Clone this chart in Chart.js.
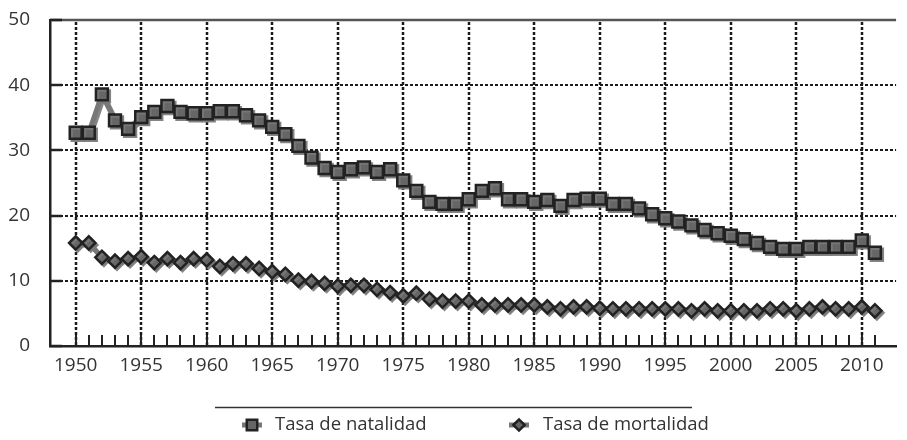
<!DOCTYPE html>
<html lang="es">
  <head>
    <meta charset="UTF-8" />
    <meta name="viewport" content="width=device-width, initial-scale=1.0" />
    <title>Tasa de natalidad y mortalidad</title>
    <style>
      body {
        margin: 0;
        background: #fff;
      }
      .chart-box {
        width: 907px;
        height: 440px;
      }
    </style>
  </head>
  <body>
    <div class="chart-box">
      <canvas id="myChart"></canvas>
    </div>

    <script src="https://cdn.jsdelivr.net/npm/chart.js"></script>

    <script>
      const years = [
        1950, 1951, 1952, 1953, 1954, 1955, 1956, 1957, 1958, 1959,
        1960, 1961, 1962, 1963, 1964, 1965, 1966, 1967, 1968, 1969,
        1970, 1971, 1972, 1973, 1974, 1975, 1976, 1977, 1978, 1979,
        1980, 1981, 1982, 1983, 1984, 1985, 1986, 1987, 1988, 1989,
        1990, 1991, 1992, 1993, 1994, 1995, 1996, 1997, 1998, 1999,
        2000, 2001, 2002, 2003, 2004, 2005, 2006, 2007, 2008, 2009,
        2010, 2011,
      ];

      const natalidad = [
        32.7, 32.7, 38.6, 34.6, 33.3, 35.1, 35.9, 36.8, 35.9, 35.7,
        35.7, 36.0, 36.0, 35.4, 34.6, 33.6, 32.5, 30.7, 28.9, 27.3,
        26.7, 27.1, 27.4, 26.7, 27.1, 25.4, 23.8, 22.1, 21.8, 21.8,
        22.5, 23.8, 24.2, 22.5, 22.5, 22.1, 22.4, 21.5, 22.4, 22.6,
        22.6, 21.8, 21.8, 21.1, 20.2, 19.6, 19.1, 18.5, 17.8, 17.3,
        16.9, 16.4, 15.8, 15.2, 14.9, 14.9, 15.2, 15.2, 15.2, 15.2,
        16.2, 14.3,
      ];

      const mortalidad = [
        15.8, 15.8, 13.6, 13.0, 13.4, 13.7, 12.8, 13.4, 12.8, 13.4,
        13.2, 12.2, 12.6, 12.6, 11.9, 11.4, 11.0, 10.1, 9.9, 9.6,
        9.2, 9.3, 9.3, 8.7, 8.2, 7.7, 8.1, 7.2, 6.9, 6.9,
        6.9, 6.3, 6.3, 6.3, 6.3, 6.3, 6.0, 5.7, 6.0, 6.0,
        5.8, 5.7, 5.7, 5.7, 5.7, 5.7, 5.7, 5.4, 5.7, 5.4,
        5.4, 5.4, 5.4, 5.7, 5.7, 5.4, 5.7, 6.0, 5.7, 5.7,
        6.0, 5.4,
      ];

      const yTicks = [0, 10, 20, 30, 40, 50];

      const fontFamily = "'Open Sans', 'Noto Sans', sans-serif";
      const lineGray = "#777777";
      const markFill = "#666666";
      const markEdge = "#222222";

      // dotted grid, inner tick marks and the top frame line
      const plotFrame = {
        id: "plotFrame",
        beforeDatasetsDraw(chart) {
          const { ctx, chartArea: a, scales } = chart;
          const x = scales.x;
          const y = scales.y;
          ctx.save();

          ctx.strokeStyle = "#555";
          ctx.lineWidth = 2.5;
          ctx.beginPath();
          ctx.moveTo(a.left, a.top);
          ctx.lineTo(a.right, a.top);
          ctx.stroke();

          ctx.strokeStyle = "#1a1a1a";
          ctx.setLineDash([3, 2]);
          ctx.lineWidth = 2;
          yTicks.forEach((v) => {
            if (v === 0 || v === 50) return;
            const py = Math.round(y.getPixelForValue(v));
            ctx.beginPath();
            ctx.moveTo(a.left, py);
            ctx.lineTo(a.right, py);
            ctx.stroke();
          });
          ctx.lineWidth = 2.5;
          years.forEach((v) => {
            if (v % 5 !== 0) return;
            const px = Math.round(x.getPixelForValue(v));
            ctx.beginPath();
            ctx.moveTo(px, a.top + 2);
            ctx.lineTo(px, a.bottom);
            ctx.stroke();
          });

          ctx.setLineDash([]);
          ctx.strokeStyle = "#222";
          ctx.lineWidth = 2;
          years.forEach((v) => {
            const px = Math.round(x.getPixelForValue(v));
            ctx.beginPath();
            ctx.moveTo(px, a.bottom);
            ctx.lineTo(px, a.bottom - 11);
            ctx.stroke();
          });
          ctx.lineWidth = 2.5;
          yTicks.forEach((v) => {
            const py = Math.round(y.getPixelForValue(v));
            ctx.beginPath();
            ctx.moveTo(a.left, py);
            ctx.lineTo(a.left + 12, py);
            ctx.stroke();
          });
          ctx.restore();
        },
      };

      // soft gray drop shadow under lines and markers
      const markShadow = {
        id: "markShadow",
        beforeDatasetDraw(chart) {
          const { ctx } = chart;
          ctx.save();
          ctx.shadowColor = "rgba(120,120,120,0.9)";
          ctx.shadowOffsetX = 2;
          ctx.shadowOffsetY = 2;
          ctx.shadowBlur = 0;
        },
        afterDatasetDraw(chart) {
          chart.ctx.restore();
        },
      };

      // legend with a rule above it, drawn under the x axis labels
      const boxedLegend = {
        id: "boxedLegend",
        afterDraw(chart) {
          const { ctx } = chart;
          const y = 425;
          const items = [
            { iconX: 252, textX: 275 },
            { iconX: 519, textX: 543 },
          ];
          ctx.save();
          ctx.strokeStyle = "#333";
          ctx.lineWidth = 1.5;
          ctx.beginPath();
          ctx.moveTo(215, 407.5);
          ctx.lineTo(692, 407.5);
          ctx.stroke();

          chart.data.datasets.forEach((ds, i) => {
            const it = items[i];
            ctx.strokeStyle = ds.borderColor;
            ctx.lineWidth = 5;
            ctx.beginPath();
            ctx.moveTo(it.iconX - 10, y);
            ctx.lineTo(it.iconX + 10, y);
            ctx.stroke();

            ctx.fillStyle = ds.pointBackgroundColor;
            ctx.strokeStyle = ds.pointBorderColor;
            ctx.lineWidth = ds.pointBorderWidth;
            Chart.helpers.drawPoint(
              ctx,
              {
                pointStyle: ds.pointStyle,
                radius: ds.pointRadius - 1,
                rotation: 0,
                borderWidth: ds.pointBorderWidth,
              },
              it.iconX,
              y
            );

            ctx.fillStyle = "#333";
            ctx.font = "18.5px " + fontFamily;
            ctx.textAlign = "left";
            ctx.textBaseline = "middle";
            ctx.fillText(ds.label, it.textX, y);
          });
          ctx.restore();
        },
      };

      const ctx = document.getElementById("myChart");

      new Chart(ctx, {
        type: "line",
        data: {
          datasets: [
            {
              label: "Tasa de natalidad",
              data: years.map((yr, i) => ({ x: yr, y: natalidad[i] })),
              borderColor: lineGray,
              borderWidth: 5,
              pointStyle: "rect",
              pointRadius: 8.4,
              pointBackgroundColor: markFill,
              pointBorderColor: markEdge,
              pointBorderWidth: 2.5,
              tension: 0,
            },
            {
              label: "Tasa de mortalidad",
              data: years.map((yr, i) => ({ x: yr, y: mortalidad[i] })),
              borderColor: lineGray,
              borderWidth: 5,
              pointStyle: "rectRot",
              pointRadius: 6.6,
              pointBackgroundColor: markFill,
              pointBorderColor: markEdge,
              pointBorderWidth: 2.5,
              tension: 0,
            },
          ],
        },
        options: {
          responsive: true,
          maintainAspectRatio: false,
          animation: false,
          events: [],
          layout: {
            padding: { top: 20, right: 1, left: 0, bottom: 0 },
          },
          plugins: {
            legend: { display: false },
            tooltip: { enabled: false },
          },
          scales: {
            x: {
              type: "linear",
              min: 1948.04,
              max: 2012.62,
              afterBuildTicks: (axis) => {
                axis.ticks = years.map((v) => ({ value: v }));
              },
              afterFit: (axis) => {
                axis.height = 94;
                axis.paddingLeft = 0;
                axis.paddingRight = 0;
              },
              grid: { display: false, drawTicks: false },
              border: { color: "#222", width: 2.5 },
              ticks: {
                autoSkip: false,
                maxRotation: 0,
                padding: 8,
                color: "#333",
                font: { family: fontFamily, size: 19 },
                callback: (v) => (v % 5 === 0 ? String(v) : ""),
              },
            },
            y: {
              min: 0,
              max: 50,
              afterBuildTicks: (axis) => {
                axis.ticks = yTicks.map((v) => ({ value: v }));
              },
              afterFit: (axis) => {
                axis.width = 50;
                axis.paddingTop = 0;
                axis.paddingBottom = 0;
              },
              grid: { display: false, drawTicks: false },
              border: { color: "#222", width: 2.5 },
              ticks: {
                padding: 20,
                color: "#333",
                font: { family: fontFamily, size: 19 },
              },
            },
          },
        },
        plugins: [plotFrame, markShadow, boxedLegend],
      });
    </script>
  </body>
</html>
